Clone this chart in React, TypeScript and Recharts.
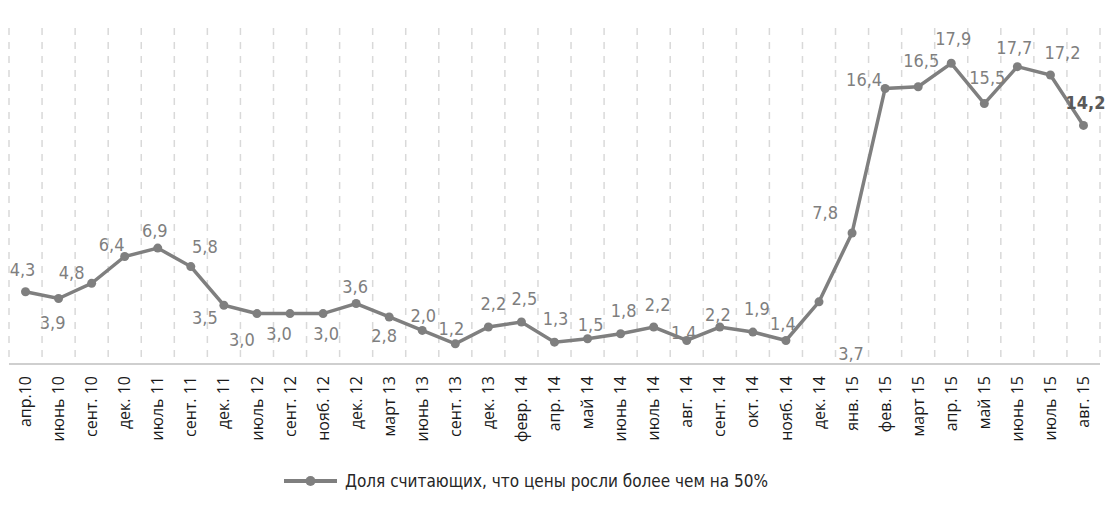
import React from 'react';
import { LineChart, Line, XAxis, YAxis, CartesianGrid } from 'recharts';

const MONTHS = [
  'апр.10', 'июнь 10', 'сент. 10', 'дек. 10', 'июль 11', 'сент. 11', 'дек. 11',
  'июль 12', 'сент. 12', 'нояб. 12', 'дек. 12', 'март 13', 'июнь 13', 'сент. 13',
  'дек. 13', 'февр. 14', 'апр. 14', 'май 14', 'июнь 14', 'июль 14', 'авг. 14',
  'сент. 14', 'окт. 14', 'нояб. 14', 'дек. 14', 'янв. 15', 'фев. 15', 'март 15',
  'апр. 15', 'май 15', 'июнь 15', 'июль 15', 'авг. 15',
];

const SHARE = [
  4.3, 3.9, 4.8, 6.4, 6.9, 5.8, 3.5, 3.0, 3.0, 3.0, 3.6, 2.8, 2.0, 1.2, 2.2, 2.5, 1.3,
  1.5, 1.8, 2.2, 1.4, 2.2, 1.9, 1.4, 3.7, 7.8, 16.4, 16.5, 17.9, 15.5, 17.7, 17.2, 14.2,
];

const SERIES_NAME = 'Доля считающих, что цены росли более чем на 50%';

// where each value label sits relative to its point (dx, dy)
const LABEL_SHIFT: [number, number][] = [
  [-3, -22], [-6, 24], [-20, -11], [-13, -12], [-3, -18], [14, -20], [-19, 12],
  [-15, 26], [-11, 20], [3, 20], [-1, -17], [-5, 19], [1, -15], [-4, -15],
  [5, -24], [3, -24], [1, -24], [3, -14], [3, -23], [4, -23], [-3, -8],
  [-2, -13], [4, -24], [-3, -17], [32, 52], [-27, -20], [-21, -9], [3, -26],
  [2, -25], [3, -26], [-3, -19], [12, -23], [2, -23],
];

const GRAY = '#7f7f7f';
const NARROW = "'Liberation Sans Narrow', 'DejaVu Sans Condensed', sans-serif";
const EDGE_TICKS = [...MONTHS.map((_, i) => i), MONTHS.length];

const data = MONTHS.map((month, i) => ({ month, share: SHARE[i] }));

function MonthTick({ x, y, payload }: any) {
  return (
    <text
      x={x}
      y={y}
      transform={`rotate(-90, ${x}, ${y})`}
      textAnchor="end"
      dy="0.35em"
      fontSize={16}
      fill="#1a1a1a"
      fontFamily="'Open Sans', sans-serif"
    >
      {payload.value}
    </text>
  );
}

function PointLabel({ x, y, index, value }: any) {
  const [dx, dy] = LABEL_SHIFT[index] || [0, -20];
  const last = index === SHARE.length - 1;
  return (
    <text
      x={x + dx}
      y={y + dy}
      textAnchor="middle"
      dominantBaseline="central"
      fontSize={18}
      fontFamily={NARROW}
      fill={last ? '#595959' : GRAY}
      fontWeight={last ? 700 : 400}
    >
      {Number(value).toFixed(1).replace('.', ',')}
    </text>
  );
}

export default function App() {
  return (
    <div style={{ position: 'absolute', left: 0, top: 0, width: 1106, height: 517, background: '#fff' }}>
      <LineChart width={1106} height={517} data={data} margin={{ top: 28, right: 6, bottom: 52, left: 9 }}>
        <CartesianGrid
          xAxisId="b"
          horizontal={false}
          stroke="#d9d9d9"
          strokeWidth={1.5}
          strokeDasharray="7 7"
          verticalCoordinatesGenerator={({ offset }: any) =>
            EDGE_TICKS.map((i) => offset.left + (i * offset.width) / MONTHS.length)
          }
        />
        <XAxis
          xAxisId="a"
          type="number"
          domain={[0, MONTHS.length]}
          ticks={EDGE_TICKS}
          tick={false}
          tickSize={5}
          tickLine={{ stroke: '#bfbfbf', strokeWidth: 1.5 }}
          axisLine={{ stroke: '#bfbfbf', strokeWidth: 1.5 }}
          height={6}
        />
        <XAxis
          xAxisId="b"
          dataKey="month"
          interval={0}
          axisLine={false}
          tickLine={false}
          tickSize={0}
          tickMargin={6}
          height={95}
          padding={{ left: 16.5, right: 16.5 }}
          tick={<MonthTick />}
        />
        <YAxis hide domain={[0, 20]} />
        <Line
          xAxisId="b"
          type="linear"
          dataKey="share"
          name={SERIES_NAME}
          stroke={GRAY}
          strokeWidth={3.5}
          dot={{ r: 4.5, fill: GRAY, stroke: GRAY, strokeWidth: 0 }}
          activeDot={false}
          isAnimationActive={false}
          label={(p: any) => <PointLabel key={`lbl-${p.index}`} {...p} />}
        />
      </LineChart>
      <div
        style={{
          position: 'absolute',
          left: 284,
          top: 471,
          display: 'flex',
          alignItems: 'center',
          fontFamily: NARROW,
          fontSize: 17,
          color: '#262626',
        }}
      >
        <svg width={53} height={12}>
          <line x1={0} y1={6} x2={53} y2={6} stroke={GRAY} strokeWidth={4} />
          <circle cx={26.5} cy={6} r={5} fill={GRAY} />
        </svg>
        <span style={{ marginLeft: 8 }}>{SERIES_NAME}</span>
      </div>
    </div>
  );
}
